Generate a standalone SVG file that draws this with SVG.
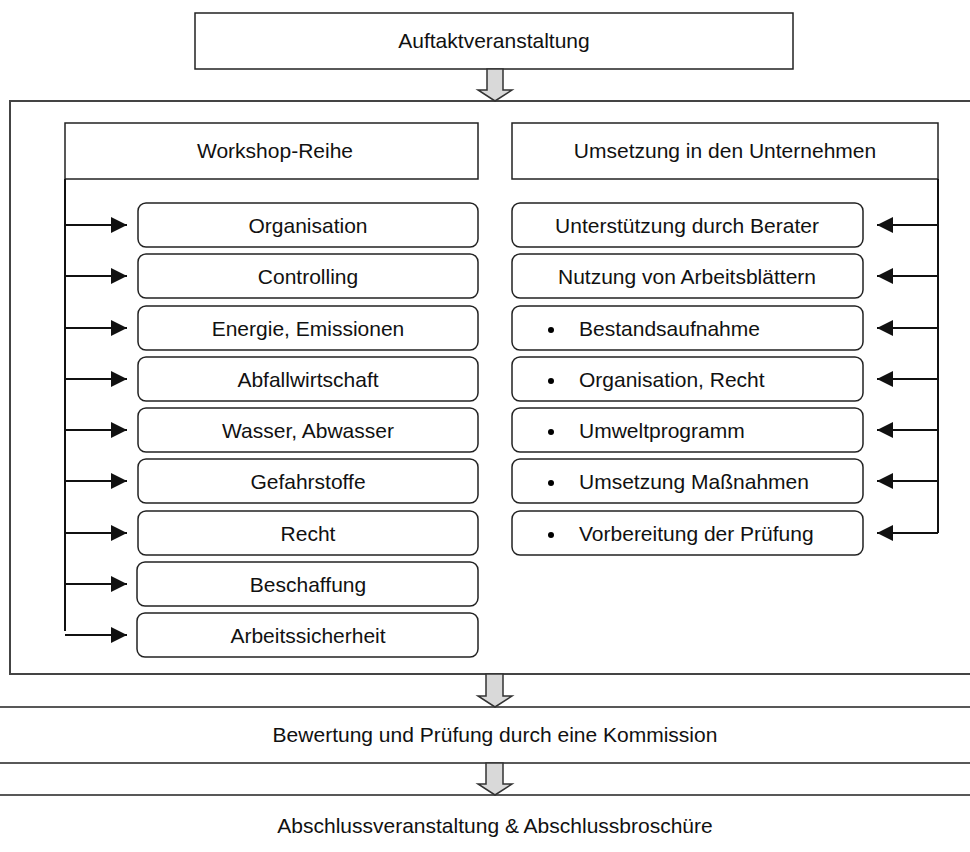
<svg xmlns="http://www.w3.org/2000/svg" width="970" height="852" viewBox="0 0 970 852">
<style>
text{font-family:"Liberation Sans",Arial,Helvetica,sans-serif;font-size:21px;fill:#111;}
.c{text-anchor:middle;}
.box{fill:#fff;stroke:#222;stroke-width:1.5;}
.item{fill:#fff;stroke:#222;stroke-width:1.5;}
.frame{fill:none;stroke:#444;stroke-width:2;}
.blk{fill:#d9d9d9;stroke:#333;stroke-width:1.5;stroke-linejoin:miter;}
.ln{fill:none;stroke:#111;stroke-width:2;}
</style>
<defs>
<marker id="ah" markerWidth="16" markerHeight="16" viewBox="0 0 16 16" refX="16" refY="8" orient="auto" markerUnits="userSpaceOnUse">
<path d="M0,0 L16,8 L0,16 Z" fill="#111"/>
</marker>
</defs>

<g id="outer"><rect class="frame" x="10" y="101" width="990" height="573"/></g>

<g id="n-auftakt"><rect class="box" x="195" y="13" width="598" height="56"/><text class="c" x="494" y="48">Auftaktveranstaltung</text></g>

<g id="n-workshop"><rect class="box" x="65" y="123" width="413" height="56"/><text class="c" x="275" y="158">Workshop-Reihe</text></g>
<g id="n-umsetzung"><rect class="box" x="512" y="123" width="426" height="56"/><text class="c" x="725" y="158">Umsetzung in den Unternehmen</text></g>

<g id="n-l1"><rect class="item" x="138" y="203" width="340" height="44" rx="8"/><text class="c" x="308" y="233">Organisation</text></g>
<g id="n-l2"><rect class="item" x="138" y="254" width="340" height="44" rx="8"/><text class="c" x="308" y="284">Controlling</text></g>
<g id="n-l3"><rect class="item" x="138" y="306" width="340" height="44" rx="8"/><text class="c" x="308" y="336">Energie, Emissionen</text></g>
<g id="n-l4"><rect class="item" x="138" y="357" width="340" height="44" rx="8"/><text class="c" x="308" y="387">Abfallwirtschaft</text></g>
<g id="n-l5"><rect class="item" x="138" y="408" width="340" height="44" rx="8"/><text class="c" x="308" y="438">Wasser, Abwasser</text></g>
<g id="n-l6"><rect class="item" x="138" y="459" width="340" height="44" rx="8"/><text class="c" x="308" y="489">Gefahrstoffe</text></g>
<g id="n-l7"><rect class="item" x="138" y="511" width="340" height="44" rx="8"/><text class="c" x="308" y="541">Recht</text></g>
<g id="n-l8"><rect class="item" x="137" y="562" width="341" height="44" rx="8"/><text class="c" x="308" y="592">Beschaffung</text></g>
<g id="n-l9"><rect class="item" x="137" y="613" width="341" height="44" rx="8"/><text class="c" x="308" y="643">Arbeitssicherheit</text></g>

<g id="n-r1"><rect class="item" x="512" y="203" width="351" height="44" rx="8"/><text class="c" x="687" y="233">Unterstützung durch Berater</text></g>
<g id="n-r2"><rect class="item" x="512" y="254" width="351" height="44" rx="8"/><text class="c" x="687" y="284">Nutzung von Arbeitsblättern</text></g>
<g id="n-r3"><rect class="item" x="512" y="306" width="351" height="44" rx="8"/><circle cx="551" cy="330" r="3"/><text x="579" y="336">Bestandsaufnahme</text></g>
<g id="n-r4"><rect class="item" x="512" y="357" width="351" height="44" rx="8"/><circle cx="551" cy="381" r="3"/><text x="579" y="387">Organisation, Recht</text></g>
<g id="n-r5"><rect class="item" x="512" y="408" width="351" height="44" rx="8"/><circle cx="551" cy="432" r="3"/><text x="579" y="438">Umweltprogramm</text></g>
<g id="n-r6"><rect class="item" x="512" y="459" width="351" height="44" rx="8"/><circle cx="551" cy="483" r="3"/><text x="579" y="489">Umsetzung Maßnahmen</text></g>
<g id="n-r7"><rect class="item" x="512" y="511" width="351" height="44" rx="8"/><circle cx="551" cy="535" r="3"/><text x="579" y="541">Vorbereitung der Prüfung</text></g>

<g id="n-bewertung"><rect class="box" x="-10" y="707" width="990" height="56"/><text class="c" x="495" y="742">Bewertung und Prüfung durch eine Kommission</text></g>
<g id="n-abschluss"><rect class="box" x="-10" y="795" width="990" height="80"/><text class="c" x="495" y="833">Abschlussveranstaltung &amp; Abschlussbroschüre</text></g>

<g id="connectors">
<path class="blk" d="M487,69 L503,69 L503,90 L512,90 L495,101 L478,90 L487,90 Z"/>
<path class="blk" d="M486,674 L503,674 L503,696 L512,696 L495,707 L478,696 L486,696 Z"/>
<path class="blk" d="M486,763 L503,763 L503,784 L512,784 L495,795 L478,784 L486,784 Z"/>
<path class="ln" d="M65,179 L65,631"/>
<path class="ln" marker-end="url(#ah)" d="M65,225 L127,225"/>
<path class="ln" marker-end="url(#ah)" d="M65,276 L127,276"/>
<path class="ln" marker-end="url(#ah)" d="M65,328 L127,328"/>
<path class="ln" marker-end="url(#ah)" d="M65,379 L127,379"/>
<path class="ln" marker-end="url(#ah)" d="M65,430 L127,430"/>
<path class="ln" marker-end="url(#ah)" d="M65,481 L127,481"/>
<path class="ln" marker-end="url(#ah)" d="M65,533 L127,533"/>
<path class="ln" marker-end="url(#ah)" d="M65,584 L127,584"/>
<path class="ln" marker-end="url(#ah)" d="M65,635 L127,635"/>
<path class="ln" d="M938,179 L938,533"/>
<path class="ln" marker-end="url(#ah)" d="M938,225 L877,225"/>
<path class="ln" marker-end="url(#ah)" d="M938,276 L877,276"/>
<path class="ln" marker-end="url(#ah)" d="M938,328 L877,328"/>
<path class="ln" marker-end="url(#ah)" d="M938,379 L877,379"/>
<path class="ln" marker-end="url(#ah)" d="M938,430 L877,430"/>
<path class="ln" marker-end="url(#ah)" d="M938,481 L877,481"/>
<path class="ln" marker-end="url(#ah)" d="M938,533 L877,533"/>
</g>
</svg>
